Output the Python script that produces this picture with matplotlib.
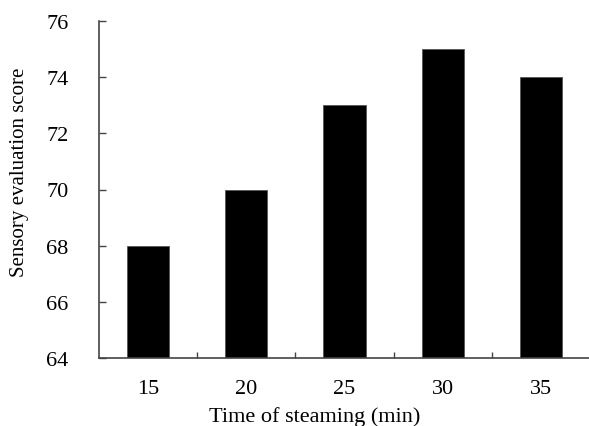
import numpy as np
import matplotlib.pyplot as plt

times = ["15", "20", "25", "30", "35"]
scores = [68, 70, 73, 75, 74]
yticks = [64, 66, 68, 70, 72, 74, 76]

plt.rcParams['font.family'] = ['Liberation Serif', 'DejaVu Serif']

W, H = 589, 427
fig = plt.figure(figsize=(W / 100, H / 100), dpi=100)
ax = fig.add_axes([99 / W, (H - 359) / H, 491 / W, 337 / H])

x = np.arange(len(times))
ax.bar(x, scores, width=0.43, color='black', edgecolor='#555555', linewidth=0.6)

ax.set_ylim(64, 76)
ax.set_xlim(-0.5, len(times) - 0.5)
ax.set_yticks(yticks)
ax.set_yticklabels([str(t) for t in yticks], fontsize=16)

# category ticks sit between bars, labels centred under bars
ax.set_xticks(x)
ax.set_xticklabels(times, fontsize=16)
ax.tick_params(axis='x', which='major', length=0, pad=15)
ax.set_xticks(x[:-1] + 0.5, minor=True)
ax.tick_params(axis='x', which='minor', direction='in', length=4, width=1, color='#444444')
ax.tick_params(axis='y', direction='in', length=5, width=1, color='#444444', pad=22)

for s in ['top', 'right']:
    ax.spines[s].set_visible(False)
for s in ['left', 'bottom']:
    ax.spines[s].set_color('#444444')
    ax.spines[s].set_linewidth(1.2)

ax.set_ylabel("Sensory evaluation score", fontsize=15)
ax.yaxis.set_label_coords(-0.143, 0.555)
ax.set_xlabel("Time of steaming (min)", fontsize=16)
ax.xaxis.set_label_coords(0.44, -0.142)

fig.savefig("out.png", dpi=100)
